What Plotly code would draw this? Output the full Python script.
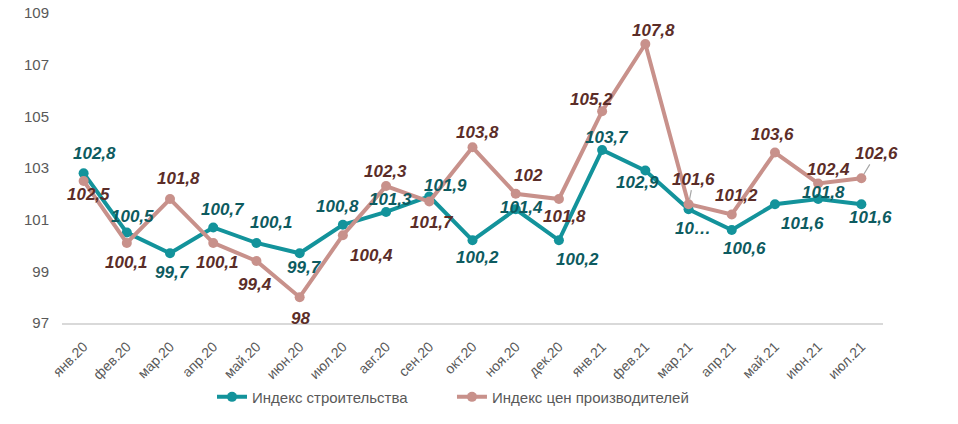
import plotly.graph_objects as go

months = ["янв.20", "фев.20", "мар.20", "апр.20", "май.20", "июн.20", "июл.20", "авг.20", "сен.20",
          "окт.20", "ноя.20", "дек.20", "янв.21", "фев.21", "мар.21", "апр.21", "май.21", "июн.21", "июл.21"]
construction = [102.8, 100.5, 99.7, 100.7, 100.1, 99.7, 100.8, 101.3, 101.9, 100.2, 101.4, 100.2,
                103.7, 102.9, 101.4, 100.6, 101.6, 101.8, 101.6]
ppi = [102.5, 100.1, 101.8, 100.1, 99.4, 98.0, 100.4, 102.3, 101.7, 103.8, 102.0, 101.8,
       105.2, 107.8, 101.6, 101.2, 103.6, 102.4, 102.6]
construction_labels = ["102,8", "100,5", "99,7", "100,7", "100,1", "99,7", "100,8", "101,3", "101,9",
                       "100,2", "101,4", "100,2", "103,7", "102,9", "10…", "100,6", "101,6", "101,8", "101,6"]
ppi_labels = ["102,5", "100,1", "101,8", "100,1", "99,4", "98", "100,4", "102,3", "101,7", "103,8",
              "102", "101,8", "105,2", "107,8", "101,6", "101,2", "103,6", "102,4", "102,6"]
name_construction = "Индекс строительства"
name_ppi = "Индекс цен производителей"

# label offsets in pixels (dx right, dy down)
c_off = [(11, -20), (6, -16), (2, 19), (10, -18), (15, -20), (5, 14), (-5, -18), (4, -12), (16, -11),
         (5, 17), (6, -2), (19, 19), (5, -12), (-8, 12), (4, 19), (13, 18), (28, 19), (5, -7), (9, 13)]
p_off = [(5, 14), (0, 20), (8, -21), (4, 20), (-1, 23), (1, 21), (29, 20), (-1, -15), (3, 21),
         (5, -15), (13, -18), (6, 17), (-11, -12), (8, -14), (5, -25), (5, -19), (-2, -18), (10, -14), (15, -25)]
p_leader = [14, 18]

TEAL = "#13939B"
TEAL_TXT = "#0D5B60"
ROSE = "#C8918B"
ROSE_TXT = "#5B2D28"

fig = go.Figure()
fig.add_trace(go.Scatter(x=months, y=construction, name=name_construction, mode="lines+markers",
                         line=dict(color=TEAL, width=4), marker=dict(color=TEAL, size=10),
                         hoverinfo="skip", legend="legend"))
fig.add_trace(go.Scatter(x=months, y=ppi, name=name_ppi, mode="lines+markers",
                         line=dict(color=ROSE, width=4), marker=dict(color=ROSE, size=10),
                         hoverinfo="skip", legend="legend2"))

lab_font = dict(family="Liberation Sans, Arial, sans-serif", size=17)
annotations = []
for i, (m, v, t) in enumerate(zip(months, construction, construction_labels)):
    dx, dy = c_off[i]
    annotations.append(dict(x=m, y=v, text="<b><i>%s</i></b>" % t, showarrow=False,
                            xshift=dx, yshift=-dy, font=dict(color=TEAL_TXT, **lab_font)))
for i, (m, v, t) in enumerate(zip(months, ppi, ppi_labels)):
    dx, dy = p_off[i]
    if i in p_leader:
        annotations.append(dict(x=m, y=v, text="<b><i>%s</i></b>" % t, showarrow=True,
                                ax=dx, ay=dy, arrowhead=0, arrowwidth=1.2, arrowcolor="#A6A6A6",
                                standoff=5, font=dict(color=ROSE_TXT, **lab_font)))
    else:
        annotations.append(dict(x=m, y=v, text="<b><i>%s</i></b>" % t, showarrow=False,
                                xshift=dx, yshift=-dy, font=dict(color=ROSE_TXT, **lab_font)))

leg_common = dict(orientation="h", y=-0.239, yanchor="middle", xanchor="left",
                  font=dict(size=15, color="#595959"), bgcolor="rgba(0,0,0,0)")

fig.update_layout(
    width=958, height=424,
    margin=dict(l=62, r=75, t=13, b=101, autoexpand=False),
    paper_bgcolor="white", plot_bgcolor="white",
    font=dict(family="Liberation Sans, Arial, sans-serif", color="#595959"),
    xaxis=dict(type="category", range=[-0.5, 18.5], showgrid=False, showline=True,
               linecolor="#D9D9D9", linewidth=2, tickangle=-45, ticks="", automargin=False,
               ticklabelstandoff=8, ticklabeloverflow="allow",
               tickfont=dict(size=14, color="#595959"), zeroline=False),
    yaxis=dict(range=[97, 109], dtick=2, tick0=97, showgrid=False, showline=False, zeroline=False,
               ticks="", automargin=False, ticklabelstandoff=12, ticklabeloverflow="allow",
               tickfont=dict(size=15, color="#595959")),
    legend=dict(x=0.1827, **leg_common),
    legend2=dict(x=0.475, **leg_common),
    annotations=annotations,
    showlegend=True,
)
fig.write_html("out.html", config={"displayModeBar": False},
               post_script="document.body.style.margin='0';")
